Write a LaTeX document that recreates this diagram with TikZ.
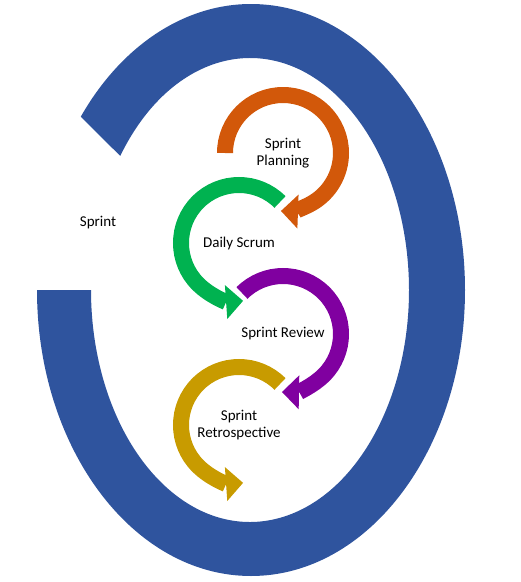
\documentclass[tikz,border=0pt]{standalone}
\usepackage{fontspec}
\setmainfont{Carlito}
\usetikzlibrary{arrows.meta}
\definecolor{sprintblue}{RGB}{47,84,158}
\definecolor{planorange}{RGB}{210,88,10}
\definecolor{dailygreen}{RGB}{0,178,80}
\definecolor{reviewpurple}{RGB}{128,0,160}
\definecolor{retrogold}{RGB}{200,155,0}
\tikzset{
  phase/.style={font=\fontsize{15}{17.5}\selectfont, align=center, inner sep=0pt},
  phasearc/.style={line width=16pt, -{Triangle[width=34pt,length=17pt,line width=0pt]}},
}
\begin{document}
\begin{tikzpicture}[x=1pt,y=1pt]
  \useasboundingbox (0,0) rectangle (521,-582);
  % outer sprint ring
  \fill[sprintblue] (251,-290) ++(180:214pt)
    arc[start angle=180, end angle=502.7, x radius=214pt, y radius=286pt]
    -- ([shift={(250,-290)}]144.7:159pt and 232pt)
    arc[start angle=144.7, end angle=-180, x radius=159pt, y radius=232pt]
    -- cycle;
  \node[phase] (sprint) at (98,-223) {Sprint};

  % the four events
  \node[phase] (plan) at (283,-153) {Sprint\\Planning};
  \node[phase] (daily) at (239,-243) {Daily Scrum};
  \node[phase] (review) at (283,-334) {Sprint Review};
  \node[phase] (retro) at (239,-425) {Sprint\\Retrospective};

  \draw[phasearc, planorange] (plan.center) ++(180:58pt)
    arc[start angle=180, end angle=-92, radius=58pt];
  \draw[phasearc, dailygreen] (daily.center) ++(45:58pt)
    arc[start angle=45, end angle=274, radius=58pt];
  \draw[phasearc, reviewpurple] (review.center) ++(135:58pt)
    arc[start angle=135, end angle=-91, radius=58pt];
  \draw[phasearc, retrogold] (retro.center) ++(45:58pt)
    arc[start angle=45, end angle=274, radius=58pt];
\end{tikzpicture}
\end{document}
